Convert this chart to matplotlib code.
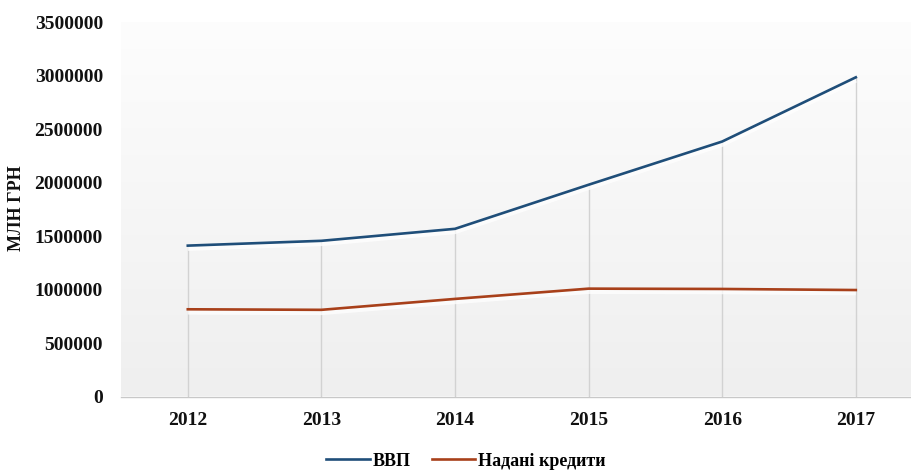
import numpy as np
import matplotlib
matplotlib.use("Agg")
import matplotlib.pyplot as plt
import matplotlib.transforms as mtransforms
from matplotlib.lines import Line2D

years = ["2012", "2013", "2014", "2015", "2016", "2017"]
gdp = [1410000, 1455000, 1567000, 1979000, 2383000, 2983000]
credits = [815000, 810000, 912000, 1008000, 1005000, 995000]
series_names = ["ВВП", "Надані кредити"]
y_label = "МЛН ГРН"
y_ticks = [0, 500000, 1000000, 1500000, 2000000, 2500000, 3000000, 3500000]

plt.rcParams["font.family"] = ["Liberation Serif", "DejaVu Serif"]
plt.rcParams["font.weight"] = "bold"

fig = plt.figure(figsize=(9.12, 4.73), dpi=100)
ax = fig.add_axes([121 / 912, 1 - 396.5 / 473, (912 - 121) / 912, (396.5 - 22) / 473])

x = np.arange(len(years))
step_px = 133.6
ax.set_xlim(-0.5, -0.5 + (912 - 121) / step_px)
ax.set_ylim(0, 3500000)

# soft vertical gradient in the plot area
grad = np.linspace(0, 1, 256).reshape(-1, 1)
cmap = matplotlib.colors.LinearSegmentedColormap.from_list("bg", ["#efefef", "#fdfdfd"])
ax.imshow(grad, aspect="auto", cmap=cmap, origin="lower",
          extent=[0, 1, 0, 1], transform=ax.transAxes, zorder=0)

# drop lines from the upper series to the axis
ax.vlines(x, 0, gdp, colors="#d2d2d2", linewidth=1.0, zorder=1)

# soft white glow beneath each line
shift = mtransforms.offset_copy(ax.transData, fig=fig, x=0, y=-2.5, units="dots")
for vals in (gdp, credits):
    ax.plot(x, vals, color="white", linewidth=4.0, alpha=0.75,
            transform=shift, zorder=2, solid_capstyle="butt")

blue = "#1f4e79"
red = "#a8401a"
ax.plot(x, gdp, color=blue, linewidth=1.9, zorder=3, label=series_names[0])
ax.plot(x, credits, color=red, linewidth=1.9, zorder=3, label=series_names[1])

for side in ("left", "right", "top"):
    ax.spines[side].set_visible(False)
ax.spines["bottom"].set_color("#c8c8c8")
ax.spines["bottom"].set_linewidth(1.0)

ax.set_xticks(x)
ax.set_xticklabels(years)
ax.set_yticks(y_ticks)
ax.set_yticklabels([str(v) for v in y_ticks])
ax.tick_params(axis="both", length=0, labelsize=14, colors="#111111")
ax.tick_params(axis="y", pad=13)
ax.tick_params(axis="x", pad=11.5)

fig.text(17 / 912, 1 - 208 / 473, y_label, rotation=90, ha="center", va="center",
         fontsize=13, fontweight="bold", color="#111111")

handles = [Line2D([], [], color=blue, linewidth=1.9),
           Line2D([], [], color=red, linewidth=1.9)]
fig.legend(handles, series_names, loc="center", bbox_to_anchor=(466 / 912, 1 - 461 / 473),
           ncol=2, frameon=False, fontsize=13, handlelength=2.4, handletextpad=0.15,
           columnspacing=1.2)

fig.savefig("out.png", dpi=100, facecolor="white")
